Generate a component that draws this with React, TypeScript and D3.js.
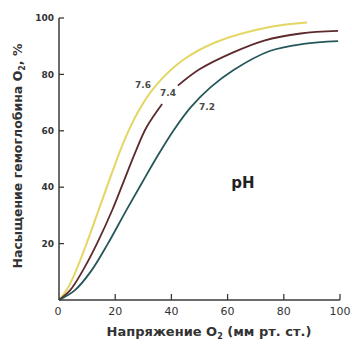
import React from "react";
import * as d3 from "d3";

const xTicks = [0, 20, 40, 60, 80, 100];
const yTicks = [20, 40, 60, 80, 100];

// pH 7.6 (yellow)
const ph76: [number, number][] = [
  [0, 0], [3, 4], [6.3, 11], [10, 20.5], [14.5, 33], [19, 45.5], [23, 56],
  [28, 66.5], [34, 75.5], [44, 85], [56, 91.5], [75, 96.8], [88.3, 98.4],
];
// pH 7.4 (maroon), lower part (before label gap)
const ph74a: [number, number][] = [
  [0, 0], [4, 3.5], [8.5, 10.5], [13.5, 20], [19, 32], [23, 42], [27, 52], [31, 61], [36.7, 69.5],
];
// pH 7.4 (maroon), upper part (after label gap)
const ph74b: [number, number][] = [
  [42.3, 76], [50, 81.8], [62, 87.8], [73, 92], [86, 94.5], [99.3, 95.4],
];
// pH 7.2 (teal)
const ph72: [number, number][] = [
  [0, 0], [5.7, 3.5], [11.6, 10.5], [17.4, 20], [23.5, 31], [29.5, 41.5], [35, 51],
  [41, 60.5], [47, 68.5], [54, 75.5], [62, 81.5], [75, 88.3], [87, 90.8], [99.3, 91.8],
];

const curveLabels = [
  { text: "7.6", x: 29.9, y: 76.2 },
  { text: "7.4", x: 38.8, y: 73.4 },
  { text: "7.2", x: 52.7, y: 68.4 },
];

export default function App() {
  const W = 352, H = 347;
  const x = d3.scaleLinear().domain([0, 100]).range([59, 340]);
  const y = d3.scaleLinear().domain([0, 100]).range([300, 18]);
  const line = d3
    .line<[number, number]>()
    .x((d) => x(d[0]))
    .y((d) => y(d[1]))
    .curve(d3.curveCatmullRom.alpha(0.5));

  const font = "'DejaVu Sans', Verdana, sans-serif";
  const axisColor = "#3a3a3a";

  return (
    <svg
      width={W}
      height={H}
      style={{ position: "absolute", left: 0, top: 0, background: "#fff" }}
      fontFamily={font}
    >
      {/* curves */}
      <path d={line(ph76) || ""} fill="none" stroke="#e3d664" strokeWidth={2} />
      <path d={line(ph74a) || ""} fill="none" stroke="#5c2a2c" strokeWidth={1.8} />
      <path d={line(ph74b) || ""} fill="none" stroke="#5c2a2c" strokeWidth={1.8} />
      <path d={line(ph72) || ""} fill="none" stroke="#25575a" strokeWidth={1.8} />

      {/* axes */}
      <line x1={x(0)} x2={x(0)} y1={y(100)} y2={y(0)} stroke={axisColor} strokeWidth={1.5} />
      <line x1={x(0)} x2={x(100)} y1={y(0)} y2={y(0)} stroke={axisColor} strokeWidth={1.5} />
      {yTicks.map((t) => (
        <g key={"y" + t}>
          <line x1={x(0)} x2={x(0) + 5} y1={y(t)} y2={y(t)} stroke={axisColor} strokeWidth={1.3} />
          <text
            x={x(0) - 5}
            y={y(t)}
            dy="0.35em"
            textAnchor="end"
            fontSize={9}
            fontWeight="bold"
            fill="#333"
          >
            {t}
          </text>
        </g>
      ))}
      {xTicks.map((t) => (
        <g key={"x" + t}>
          {t > 0 && (
            <line x1={x(t)} x2={x(t)} y1={y(0)} y2={y(0) - 6} stroke={axisColor} strokeWidth={1.3} />
          )}
          <text
            x={x(t) - (t === 0 ? 1 : 0)}
            y={y(0) + 15}
            textAnchor="middle"
            fontSize={11}
            fill="#333"
          >
            {t}
          </text>
        </g>
      ))}

      {/* curve labels */}
      {curveLabels.map((l) => (
        <text
          key={l.text}
          x={x(l.x)}
          y={y(l.y)}
          dy="0.35em"
          textAnchor="middle"
          fontSize={9}
          fontWeight="bold"
          fill="#4a4a4a"
        >
          {l.text}
        </text>
      ))}
      <text x={243} y={183} dy="0.35em" textAnchor="middle" fontSize={15} fontWeight="bold" fill="#222">
        pH
      </text>

      {/* axis titles */}
      <text x={209} y={336} textAnchor="middle" fontSize={13} fontWeight="bold" fill="#333">
        Напряжение O<tspan fontSize={8} dy={3}>2</tspan>
        <tspan dy={-3}> (мм рт. ст.)</tspan>
      </text>
      <text
        transform="translate(22,156) rotate(-90)"
        textAnchor="middle"
        fontSize={12.5}
        fontWeight="bold"
        fill="#333"
      >
        Насыщение гемоглобина O<tspan fontSize={8} dy={3}>2</tspan>
        <tspan dy={-3}>, %</tspan>
      </text>
    </svg>
  );
}
